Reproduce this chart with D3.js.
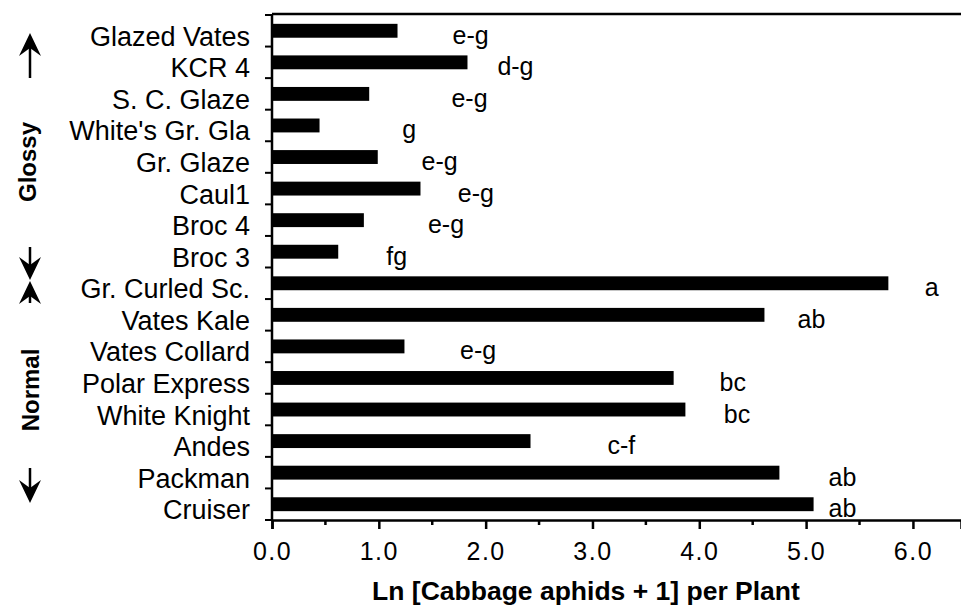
<!DOCTYPE html>
<html>
<head>
<meta charset="utf-8">
<script src="https://cdn.jsdelivr.net/npm/d3@7"></script>
<style>
  body { margin: 0; background: #fff; }
  text { font-family: "Liberation Sans", Arial, sans-serif; fill: #000; }
</style>
</head>
<body>
<div id="chart"></div>
<script>
var cultivars = ["Glazed Vates", "KCR 4", "S. C. Glaze", "White's Gr. Gla", "Gr. Glaze", "Caul1", "Broc 4", "Broc 3",
  "Gr. Curled Sc.", "Vates Kale", "Vates Collard", "Polar Express", "White Knight", "Andes", "Packman", "Cruiser"];
var aphids = [1.175, 1.83, 0.91, 0.445, 0.99, 1.39, 0.86, 0.62, 5.77, 4.61, 1.24, 3.76, 3.87, 2.42, 4.75, 5.07];
var letters = ["e-g", "d-g", "e-g", "g", "e-g", "e-g", "e-g", "fg", "a", "ab", "e-g", "bc", "bc", "c-f", "ab", "ab"];
// where each letter group sits, in axis units
var letterAt = [1.69, 2.11, 1.68, 1.22, 1.40, 1.74, 1.46, 1.07, 6.11, 4.92, 1.76, 4.19, 4.23, 3.14, 5.21, 5.21];
var xTicks = [0, 1, 2, 3, 4, 5, 6];
var xMinor = [0.5, 1.5, 2.5, 3.5, 4.5, 5.5];
var xTitle = "Ln [Cabbage aphids + 1] per Plant";

function draw() {
  var W = 961, H = 608;
  var left = 272, plotTop = 15, bottom = 520;

  var svg = d3.select("#chart").append("svg")
    .attr("width", W).attr("height", H);

  var x = d3.scaleLinear().domain([0, 6.45]).range([left, W]);
  var y = d3.scaleBand().domain(cultivars).range([plotTop, bottom])
    .paddingInner(0.56).paddingOuter(0.28);
  var step = y.step();

  // bars
  svg.selectAll("rect.bar").data(cultivars).enter().append("rect")
    .attr("class", "bar")
    .attr("x", x(0))
    .attr("y", function (d) { return y(d); })
    .attr("width", function (d, i) { return x(aphids[i]) - x(0); })
    .attr("height", y.bandwidth())
    .attr("fill", "#000");

  // significance letters
  svg.selectAll("text.letter").data(cultivars).enter().append("text")
    .attr("class", "letter")
    .attr("x", function (d, i) { return x(letterAt[i]); })
    .attr("y", function (d) { return y(d) + y.bandwidth() / 2 + 13; })
    .style("font-size", "25px")
    .text(function (d, i) { return letters[i]; });

  // category labels
  svg.selectAll("text.cat").data(cultivars).enter().append("text")
    .attr("class", "cat")
    .attr("x", 250)
    .attr("y", function (d) { return y(d) + y.bandwidth() / 2 + 15; })
    .attr("text-anchor", "end")
    .style("font-size", "27px")
    .text(function (d) { return d; });

  // y axis line and ticks between categories
  var bounds = cultivars.map(function (d) { return y(d) - step * 0.28; }).concat([bottom]);
  svg.append("line").attr("x1", left).attr("x2", left).attr("y1", plotTop - 1).attr("y2", bottom)
    .attr("stroke", "#000").attr("stroke-width", 2.5);
  svg.selectAll("line.ytick").data(bounds).enter().append("line")
    .attr("class", "ytick")
    .attr("x1", left - 7).attr("x2", left)
    .attr("y1", function (d) { return d; }).attr("y2", function (d) { return d; })
    .attr("stroke", "#000").attr("stroke-width", 2);

  // top frame line
  svg.append("line").attr("x1", left).attr("x2", W).attr("y1", plotTop - 1).attr("y2", plotTop - 1)
    .attr("stroke", "#000").attr("stroke-width", 2.5);

  // x axis
  var xAxis = svg.append("g").attr("transform", "translate(0," + bottom + ")")
    .call(d3.axisBottom(x).tickValues(xTicks).tickSize(9).tickPadding(16).tickFormat(d3.format(".1f")));
  xAxis.select(".domain").attr("stroke-width", 2.5);
  xAxis.selectAll(".tick line").attr("stroke-width", 2.5);
  xAxis.selectAll(".tick text")
    .style("font-family", "\"Liberation Sans\", Arial, sans-serif")
    .style("font-size", "25px")
    .style("letter-spacing", "1.5px")
    .attr("dy", "0.6em");
  xAxis.attr("font-size", null).attr("font-family", null);
  xAxis.selectAll("line.minor").data(xMinor).enter().append("line")
    .attr("class", "minor")
    .attr("x1", function (d) { return x(d); }).attr("x2", function (d) { return x(d); })
    .attr("y1", 0).attr("y2", 5)
    .attr("stroke", "#000").attr("stroke-width", 2.5);

  svg.append("text")
    .attr("x", 586).attr("y", 600)
    .attr("text-anchor", "middle")
    .style("font-size", "26.5px").style("font-weight", "bold")
    .text(xTitle);

  // group labels with arrows on the far left
  function arrow(xc, yFrom, yTip) {
    var dir = yTip < yFrom ? -1 : 1;
    svg.append("line").attr("x1", xc).attr("x2", xc)
      .attr("y1", yFrom).attr("y2", yTip - dir * 14)
      .attr("stroke", "#000").attr("stroke-width", 2.5);
    var p = d3.path();
    p.moveTo(xc, yTip);
    p.lineTo(xc - 11, yTip - dir * 23);
    p.lineTo(xc, yTip - dir * 15);
    p.lineTo(xc + 11, yTip - dir * 23);
    p.closePath();
    svg.append("path").attr("d", p.toString()).attr("fill", "#000");
  }
  arrow(30, 78, 33);
  arrow(30, 247, 280);
  arrow(30, 303, 281);
  arrow(30, 468, 503);

  svg.append("text")
    .attr("transform", "translate(36,162) rotate(-90)")
    .attr("text-anchor", "middle")
    .style("font-size", "24px").style("font-weight", "bold")
    .text("Glossy");
  svg.append("text")
    .attr("transform", "translate(39,390) rotate(-90)")
    .attr("text-anchor", "middle")
    .style("font-size", "24px").style("font-weight", "bold")
    .text("Normal");
}
draw();
</script>
</body>
</html>
